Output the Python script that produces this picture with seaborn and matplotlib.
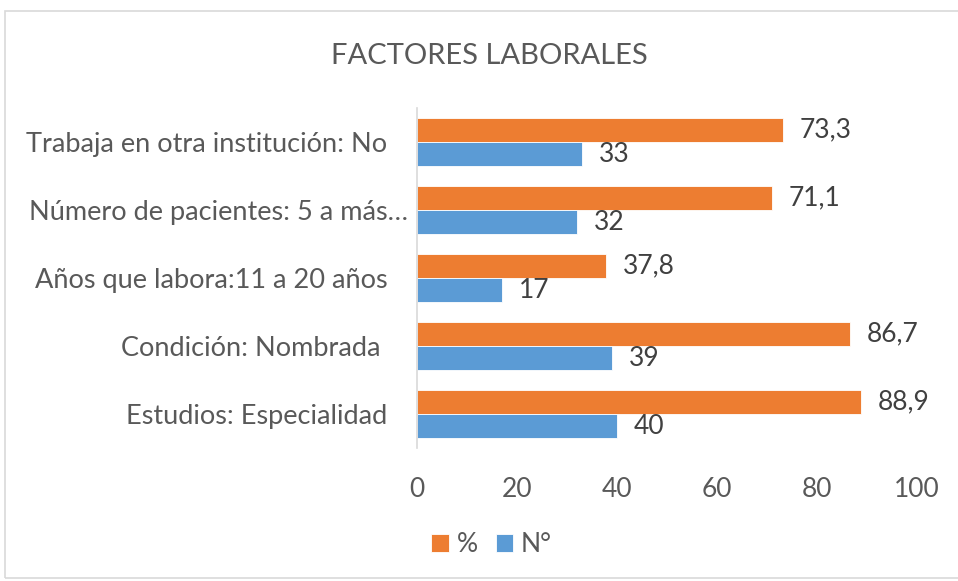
"""
Factores laborales: grouped horizontal bars (% and N°).
"""

import pandas as pd
import matplotlib.pyplot as plt
import seaborn as sns
from matplotlib.patches import Rectangle

categorias = [
    "Trabaja en otra institución: No",
    "Número de pacientes: 5 a más…",
    "Años que labora:11 a 20 años",
    "Condición: Nombrada",
    "Estudios: Especialidad",
]
# Excel leaves a gap after most labels; the ellipsis one sits tight to the axis
etiquetas = [
    "Trabaja en otra institución: No   ",
    "Número de pacientes: 5 a más…",
    "Años que labora:11 a 20 años   ",
    "Condición: Nombrada    ",
    "Estudios: Especialidad   ",
]
porcentaje = [73.3, 71.1, 37.8, 86.7, 88.9]
numero = [33, 32, 17, 39, 40]
series = ["%", "N°"]
xticks = [0, 20, 40, 60, 80, 100]

ORANGE = "#ED7D31"
BLUE = "#5B9BD5"
TEXT = "#404040"

sns.set_theme(style="white")
plt.rcParams["font.family"] = ["Lato", "DejaVu Sans"]

df = pd.DataFrame({
    "categoria": categorias * 2,
    "serie": [series[0]] * len(categorias) + [series[1]] * len(categorias),
    "valor": porcentaje + numero,
})

fig = plt.figure(figsize=(9.58, 5.81), dpi=100)
ax = fig.add_axes([0.435, 0.229, 0.522, 0.585])

sns.barplot(data=df, y="categoria", x="valor", hue="serie", order=categorias,
            hue_order=series, palette=[ORANGE, BLUE], saturation=1, orient="h",
            width=0.71, edgecolor="white", linewidth=0.6, ax=ax)

# value labels, comma as decimal separator
for cont in ax.containers:
    labels = [f"{v:g}".replace(".", ",") for v in cont.datavalues]
    ax.bar_label(cont, labels=labels, padding=12, fontsize=19, color=TEXT)

ax.set_xlim(0, 100)
ax.set_xticks(xticks)
ax.set_yticks(range(len(categorias)))
ax.set_yticklabels(etiquetas)
ax.set_xlabel("")
ax.set_ylabel("")
ax.tick_params(axis="x", length=0, pad=21, labelsize=19, labelcolor="#595959")
ax.tick_params(axis="y", length=0, pad=6, labelsize=19.5, labelcolor="#595959")

for side in ["top", "right", "bottom"]:
    ax.spines[side].set_visible(False)
ax.spines["left"].set_color("#D9D9D9")
ax.spines["left"].set_linewidth(1.2)

fig.suptitle("FACTORES LABORALES", x=0.511, y=0.926, fontsize=21,
             color="#595959", fontweight="normal")

ax.legend(loc="center", bbox_to_anchor=(0.15, -0.285), ncol=2, frameon=False,
          fontsize=19, labelcolor="#595959", handlelength=0.65, handleheight=0.65,
          handletextpad=0.3, columnspacing=0.7)

# light chart-area border
fig.patches.append(Rectangle((5 / 958, 3 / 581), 1.0, 1 - 14 / 581,
                             transform=fig.transFigure, fill=False,
                             edgecolor="#D9D9D9", linewidth=1.2))

fig.savefig("out.png", dpi=100)
